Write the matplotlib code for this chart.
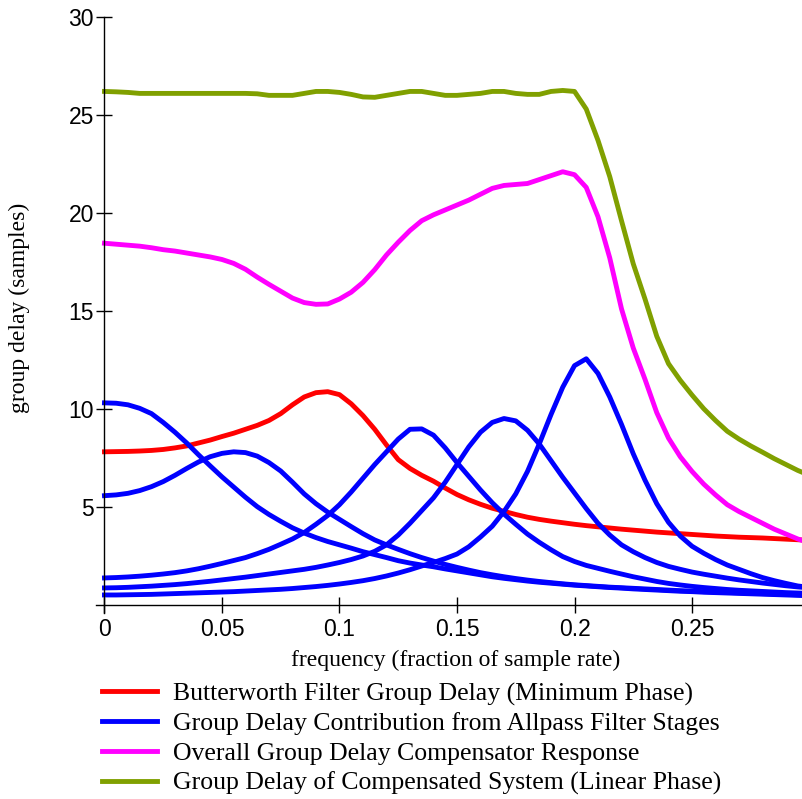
import matplotlib
matplotlib.use("Agg")
import matplotlib.pyplot as plt
import numpy as np

# frequency grid (fraction of sample rate), step 0.005
freq = np.arange(61) * 0.005

butterworth = [7.80, 7.81, 7.82, 7.84, 7.87, 7.92, 8.00, 8.10, 8.25, 8.40,
               8.58, 8.75, 8.95, 9.15, 9.40, 9.75, 10.20, 10.60, 10.82, 10.87,
               10.72, 10.25, 9.65, 8.95, 8.15, 7.40, 6.95, 6.60, 6.30, 5.95,
               5.62, 5.35, 5.12, 4.92, 4.76, 4.60, 4.46, 4.35, 4.26, 4.18,
               4.10, 4.03, 3.97, 3.91, 3.85, 3.80, 3.75, 3.70, 3.66, 3.62,
               3.58, 3.54, 3.50, 3.47, 3.44, 3.42, 3.40, 3.37, 3.34, 3.31, 3.28]

# allpass stages
stage1 = [10.30, 10.28, 10.20, 10.02, 9.75, 9.30, 8.80, 8.25, 7.65, 7.08,
          6.52, 6.00, 5.48, 5.00, 4.60, 4.25, 3.92, 3.65, 3.42, 3.22,
          3.05, 2.88, 2.70, 2.55, 2.40, 2.24, 2.12, 2.02, 1.93, 1.82,
          1.72, 1.62, 1.52, 1.42, 1.34, 1.27, 1.20, 1.14, 1.09, 1.04,
          0.99, 0.95, 0.91, 0.87, 0.84, 0.80, 0.77, 0.74, 0.71, 0.68,
          0.66, 0.63, 0.61, 0.59, 0.57, 0.55, 0.53, 0.51, 0.49, 0.47, 0.45]
stage2 = [5.56, 5.60, 5.68, 5.82, 6.02, 6.28, 6.60, 6.95, 7.28, 7.55,
          7.72, 7.80, 7.76, 7.58, 7.25, 6.82, 6.25, 5.65, 5.15, 4.72,
          4.35, 3.98, 3.62, 3.30, 3.05, 2.82, 2.60, 2.40, 2.22, 2.05,
          1.90, 1.76, 1.63, 1.52, 1.42, 1.33, 1.25, 1.18, 1.12, 1.06,
          1.01, 0.97, 0.93, 0.89, 0.86, 0.83, 0.80, 0.77, 0.74, 0.71,
          0.69, 0.66, 0.64, 0.62, 0.60, 0.58, 0.56, 0.54, 0.52, 0.50, 0.48]
stage3 = [1.36, 1.38, 1.41, 1.45, 1.50, 1.56, 1.63, 1.72, 1.83, 1.96,
          2.10, 2.25, 2.40, 2.60, 2.82, 3.08, 3.35, 3.68, 4.10, 4.55,
          5.10, 5.75, 6.45, 7.15, 7.80, 8.45, 8.95, 8.97, 8.65, 8.00,
          7.25, 6.55, 5.85, 5.20, 4.62, 4.10, 3.60, 3.18, 2.80, 2.45,
          2.20, 2.00, 1.85, 1.70, 1.56, 1.42, 1.30, 1.18, 1.08, 1.00,
          0.93, 0.87, 0.82, 0.77, 0.73, 0.70, 0.67, 0.64, 0.61, 0.59, 0.57]
stage4 = [0.85, 0.86, 0.88, 0.91, 0.94, 0.98, 1.02, 1.07, 1.13, 1.19,
          1.26, 1.33, 1.40, 1.48, 1.56, 1.64, 1.72, 1.80, 1.90, 2.02,
          2.15, 2.30, 2.48, 2.72, 3.05, 3.55, 4.15, 4.80, 5.45, 6.25,
          7.15, 8.05, 8.80, 9.30, 9.50, 9.38, 8.90, 8.20, 7.35, 6.50,
          5.70, 4.90, 4.15, 3.55, 3.05, 2.70, 2.40, 2.15, 1.95, 1.80,
          1.66, 1.55, 1.45, 1.35, 1.26, 1.18, 1.10, 1.03, 0.96, 0.90, 0.85]
stage5 = [0.49, 0.49, 0.50, 0.51, 0.52, 0.54, 0.56, 0.58, 0.60, 0.62,
          0.64, 0.66, 0.69, 0.72, 0.75, 0.78, 0.82, 0.87, 0.92, 0.98,
          1.05, 1.13, 1.22, 1.33, 1.46, 1.61, 1.78, 1.97, 2.15, 2.35,
          2.58, 2.95, 3.45, 4.00, 4.75, 5.65, 6.80, 8.20, 9.70, 11.10,
          12.20, 12.55, 11.80, 10.60, 9.20, 7.70, 6.35, 5.15, 4.20, 3.50,
          2.98, 2.62, 2.30, 2.02, 1.80, 1.58, 1.38, 1.22, 1.08, 0.95, 0.88]
stages = [stage1, stage2, stage3, stage4, stage5]

compensator = [18.45, 18.40, 18.35, 18.30, 18.22, 18.12, 18.05, 17.95, 17.85, 17.75,
               17.62, 17.42, 17.12, 16.72, 16.35, 16.00, 15.65, 15.42, 15.33, 15.35,
               15.60, 15.95, 16.45, 17.10, 17.85, 18.50, 19.10, 19.60, 19.90, 20.15,
               20.40, 20.65, 20.95, 21.25, 21.40, 21.45, 21.50, 21.70, 21.90, 22.10,
               21.95, 21.30, 19.80, 17.70, 15.10, 13.10, 11.50, 9.80, 8.50, 7.55,
               6.80, 6.15, 5.60, 5.10, 4.75, 4.45, 4.15, 3.85, 3.60, 3.35, 3.15]

compensated = [26.20, 26.18, 26.15, 26.10, 26.10, 26.10, 26.10, 26.10, 26.10, 26.10,
               26.10, 26.10, 26.10, 26.08, 26.00, 26.00, 26.00, 26.10, 26.20, 26.20,
               26.15, 26.05, 25.92, 25.90, 26.00, 26.10, 26.20, 26.20, 26.10, 26.00,
               26.00, 26.05, 26.10, 26.20, 26.20, 26.10, 26.05, 26.05, 26.20, 26.25,
               26.20, 25.30, 23.70, 21.85, 19.60, 17.40, 15.60, 13.70, 12.30, 11.45,
               10.70, 10.00, 9.40, 8.85, 8.45, 8.10, 7.78, 7.45, 7.15, 6.85, 6.60]

labels = ["Butterworth Filter Group Delay (Minimum Phase)",
          "Group Delay Contribution from Allpass Filter Stages",
          "Overall Group Delay Compensator Response",
          "Group Delay of Compensated System (Linear Phase)"]

lw = 3.5
fig = plt.figure(figsize=(8.02, 7.99), dpi=100)
ax = fig.add_axes([0.1197, 0.2328, 0.8803, 0.7459])

h_red, = ax.plot(freq, butterworth, color="#ff0000", lw=lw)
for s in stages:
    h_blue, = ax.plot(freq, s, color="#0000ff", lw=lw)
h_mag, = ax.plot(freq, compensator, color="#ff00ff", lw=lw)
h_grn, = ax.plot(freq, compensated, color="#80a000", lw=lw)

ax.set_xlim(-0.0036, 0.2968)
ax.set_ylim(-0.43, 30)
ax.spines["left"].set_position(("data", 0))
ax.spines["bottom"].set_position(("data", 0))
ax.spines["top"].set_visible(False)
ax.spines["right"].set_visible(False)
for sp in ["left", "bottom"]:
    ax.spines[sp].set_linewidth(1.0)

ax.set_xticks([0, 0.05, 0.1, 0.15, 0.2, 0.25])
ax.set_xticklabels(["0", "0.05", "0.1", "0.15", "0.2", "0.25"])
ax.set_yticks([5, 10, 15, 20, 25, 30])
ax.tick_params(direction="inout", length=11, width=1.0, labelsize=16.5)
ax.tick_params(axis="x", pad=4.5)
ax.tick_params(axis="y", pad=2)
for t in ax.get_xticklabels() + ax.get_yticklabels():
    t.set_family("Liberation Sans")

ax.set_xlabel("frequency (fraction of sample rate)", family="Liberation Serif", fontsize=17)
ax.xaxis.set_label_coords(0.51, -0.062)
ax.set_ylabel("group delay (samples)", family="Liberation Serif", fontsize=17)
ax.yaxis.set_label_coords(-0.094, 0.512)

fig.legend([h_red, h_blue, h_mag, h_grn], labels, loc="upper left",
           bbox_to_anchor=(0.127, 0.146), frameon=False,
           prop={"family": "Liberation Serif", "size": 18.5},
           handlelength=2.14, handletextpad=0.62, labelspacing=0.26,
           borderaxespad=0, borderpad=0)

fig.savefig("out.png", dpi=100)
